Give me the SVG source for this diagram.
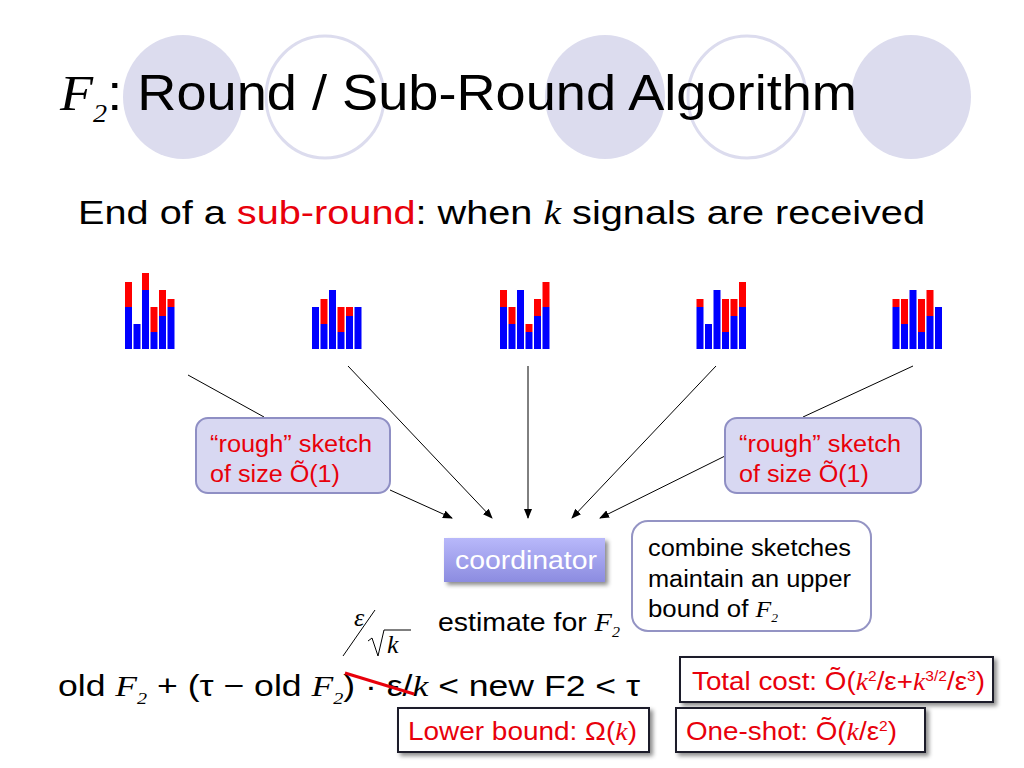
<svg xmlns="http://www.w3.org/2000/svg" width="1024" height="768" viewBox="0 0 1024 768">
<style>
text{font-family:"Liberation Sans",Arial,sans-serif;}
.m{font-family:"Liberation Serif","Times New Roman",serif;font-style:italic;}
.b{fill:#0000ff}.r{fill:#ff0000}
.ln{stroke:#000;stroke-width:1;fill:none}
.red{fill:#e8000b}
</style>
<defs>
<marker id="ah" markerWidth="10" markerHeight="8" refX="9" refY="4" orient="auto" markerUnits="userSpaceOnUse"><path d="M0,0 L10,4 L0,8 Z" fill="#000"/></marker>
<linearGradient id="cg" x1="0" y1="0" x2="0" y2="1"><stop offset="0" stop-color="#b8b8fa"/><stop offset="1" stop-color="#8c8ce0"/></linearGradient>
<filter id="sh" x="-10%" y="-10%" width="130%" height="140%"><feDropShadow dx="3" dy="3" stdDeviation="2" flood-color="#000" flood-opacity="0.45"/></filter>
</defs>
<rect width="1024" height="768" fill="#fff"/>
<g id="deco">
<ellipse cx="183" cy="97" rx="60" ry="62" fill="#dcdcee"/>
<ellipse cx="325" cy="97" rx="59" ry="61" fill="none" stroke="#dcdcee" stroke-width="3"/>
<ellipse cx="605" cy="97" rx="60" ry="62" fill="#dcdcee"/>
<ellipse cx="747" cy="97" rx="59" ry="61" fill="none" stroke="#dcdcee" stroke-width="3"/>
<ellipse cx="911" cy="97" rx="60" ry="62" fill="#dcdcee"/>
</g>
<g id="title">
<text x="60" y="110" font-size="50" textLength="797" lengthAdjust="spacingAndGlyphs"><tspan class="m">F</tspan><tspan font-size="26" class="m" font-style="normal" dy="12">2</tspan><tspan dy="-12">: Round / Sub-Round Algorithm</tspan></text>
<text x="78" y="224" font-size="34" textLength="847" lengthAdjust="spacingAndGlyphs">End of a <tspan class="red">sub-round</tspan>: when <tspan class="m">k</tspan> signals are received</text>
</g>
<g id="sites">
<g id="s1">
<rect class="b" x="125" y="307" width="7" height="42"/><rect class="r" x="125" y="282" width="7" height="25"/>
<rect class="b" x="133.5" y="324" width="7" height="25"/>
<rect class="b" x="142" y="290" width="7" height="59"/><rect class="r" x="142" y="273" width="7" height="17"/>
<rect class="b" x="150.5" y="332" width="7" height="17"/><rect class="r" x="150.5" y="307" width="7" height="25"/>
<rect class="b" x="159" y="316" width="7" height="33"/><rect class="r" x="159" y="290" width="7" height="26"/>
<rect class="b" x="167.5" y="307" width="7" height="42"/><rect class="r" x="167.5" y="299" width="7" height="8"/>
</g>
<g id="s2">
<rect class="b" x="312" y="307" width="7" height="42"/>
<rect class="b" x="320.5" y="324" width="7" height="25"/><rect class="r" x="320.5" y="299" width="7" height="25"/>
<rect class="b" x="329" y="290" width="7" height="59"/>
<rect class="b" x="337.5" y="332" width="7" height="17"/><rect class="r" x="337.5" y="307" width="7" height="25"/>
<rect class="b" x="346" y="316" width="7" height="33"/><rect class="r" x="346" y="307" width="7" height="9"/>
<rect class="b" x="354.5" y="307" width="7" height="42"/>
</g>
<g id="s3">
<rect class="b" x="500" y="307" width="7" height="42"/><rect class="r" x="500" y="290" width="7" height="17"/>
<rect class="b" x="508.5" y="324" width="7" height="25"/><rect class="r" x="508.5" y="307" width="7" height="17"/>
<rect class="b" x="517" y="290" width="7" height="59"/>
<rect class="b" x="525.5" y="332" width="7" height="17"/><rect class="r" x="525.5" y="324" width="7" height="8"/>
<rect class="b" x="534" y="316" width="7" height="33"/><rect class="r" x="534" y="299" width="7" height="17"/>
<rect class="b" x="542.5" y="307" width="7" height="42"/><rect class="r" x="542.5" y="282" width="7" height="25"/>
</g>
<g id="s4">
<rect class="b" x="696.5" y="307" width="7" height="42"/><rect class="r" x="696.5" y="299" width="7" height="8"/>
<rect class="b" x="705" y="324" width="7" height="25"/>
<rect class="b" x="713.5" y="290" width="7" height="59"/>
<rect class="b" x="722" y="332" width="7" height="17"/><rect class="r" x="722" y="299" width="7" height="33"/>
<rect class="b" x="730.5" y="316" width="7" height="33"/><rect class="r" x="730.5" y="299" width="7" height="17"/>
<rect class="b" x="739" y="307" width="7" height="42"/><rect class="r" x="739" y="282" width="7" height="25"/>
</g>
<g id="s5">
<rect class="b" x="892.5" y="307" width="7" height="42"/><rect class="r" x="892.5" y="299" width="7" height="8"/>
<rect class="b" x="901" y="324" width="7" height="25"/><rect class="r" x="901" y="299" width="7" height="25"/>
<rect class="b" x="909.5" y="290" width="7" height="59"/>
<rect class="b" x="918" y="332" width="7" height="17"/><rect class="r" x="918" y="299" width="7" height="33"/>
<rect class="b" x="926.5" y="316" width="7" height="33"/><rect class="r" x="926.5" y="290" width="7" height="26"/>
<rect class="b" x="935" y="307" width="7" height="42"/>
</g>
</g>
<g id="connectors">
<line class="ln" x1="188" y1="375" x2="264" y2="417"/>
<line class="ln" x1="390" y1="490" x2="452" y2="518" marker-end="url(#ah)"/>
<line class="ln" x1="348" y1="366" x2="492" y2="518" marker-end="url(#ah)"/>
<line class="ln" x1="528" y1="366" x2="528" y2="518" marker-end="url(#ah)"/>
<line class="ln" x1="716" y1="366" x2="572" y2="518" marker-end="url(#ah)"/>
<line class="ln" x1="913" y1="366" x2="803" y2="417"/>
<line class="ln" x1="725" y1="456" x2="600" y2="518" marker-end="url(#ah)"/>
</g>
<g id="rough1">
<rect x="196" y="418" width="194" height="75" rx="12" fill="#d8d8f2" stroke="#8f8fc4" stroke-width="2"/>
<text x="210" y="452" font-size="23" class="red" textLength="162" lengthAdjust="spacingAndGlyphs">“rough” sketch</text>
<text x="210" y="482" font-size="23" class="red" textLength="130" lengthAdjust="spacingAndGlyphs">of size Õ(1)</text>
</g>
<g id="rough2">
<rect x="725" y="418" width="196" height="75" rx="12" fill="#d8d8f2" stroke="#8f8fc4" stroke-width="2"/>
<text x="739" y="452" font-size="23" class="red" textLength="162" lengthAdjust="spacingAndGlyphs">“rough” sketch</text>
<text x="739" y="482" font-size="23" class="red" textLength="130" lengthAdjust="spacingAndGlyphs">of size Õ(1)</text>
</g>
<g id="coordinator">
<rect x="444" y="538" width="161" height="44" fill="url(#cg)" filter="url(#sh)"/>
<text x="455" y="569" font-size="25" fill="#fff" textLength="142" lengthAdjust="spacingAndGlyphs">coordinator</text>
</g>
<g id="combine">
<rect x="632" y="521" width="239" height="110" rx="16" fill="#fff" stroke="#9494c4" stroke-width="2"/>
<text x="648" y="556" font-size="23" textLength="203" lengthAdjust="spacingAndGlyphs">combine sketches</text>
<text x="648" y="587" font-size="23" textLength="203" lengthAdjust="spacingAndGlyphs">maintain an upper</text>
<text x="648" y="617" font-size="23" textLength="130" lengthAdjust="spacingAndGlyphs">bound of <tspan class="m">F</tspan><tspan class="m" font-style="normal" font-size="12" dy="5">2</tspan></text>
</g>
<g id="estimate">
<text x="354" y="626" font-size="26" class="m">ε</text>
<line class="ln" x1="343" y1="656" x2="375" y2="610"/>
<path class="ln" d="M368,641 L372,638 L378,656 L384,630 L411,630"/>
<text x="387" y="653" font-size="26" class="m">k</text>
<text x="438" y="631" font-size="25" textLength="182" lengthAdjust="spacingAndGlyphs">estimate for <tspan class="m">F</tspan><tspan class="m" font-style="normal" font-size="14" dy="6">2</tspan></text>
</g>
<g id="formula">
<text x="58" y="696" font-size="30" textLength="582" lengthAdjust="spacingAndGlyphs">old <tspan class="m">F</tspan><tspan class="m" font-style="normal" font-size="17" dy="8">2</tspan><tspan dy="-8"> + (τ − old </tspan><tspan class="m">F</tspan><tspan class="m" font-style="normal" font-size="17" dy="8">2</tspan><tspan dy="-8">) · ε/</tspan><tspan class="m">k</tspan><tspan> &lt;  new F2  &lt;  τ</tspan></text>
<line x1="345" y1="673" x2="414" y2="694" stroke="#e8000b" stroke-width="3"/>
</g>
<g id="total">
<rect x="680" y="657" width="313" height="45" fill="#fff" stroke="#1a1a2a" stroke-width="2" filter="url(#sh)"/>
<text x="692" y="690" font-size="25" class="red" textLength="293" lengthAdjust="spacingAndGlyphs">Total cost: Õ(<tspan class="m">k</tspan><tspan font-size="14" dy="-9">2</tspan><tspan dy="9">/ε+</tspan><tspan class="m">k</tspan><tspan font-size="14" dy="-9">3/2</tspan><tspan dy="9">/ε</tspan><tspan font-size="14" dy="-9">3</tspan><tspan dy="9">)</tspan></text>
</g>
<g id="lower">
<rect x="398" y="708" width="251" height="44" fill="#fff" stroke="#1a1a2a" stroke-width="2" filter="url(#sh)"/>
<text x="408" y="740" font-size="25" class="red" textLength="229" lengthAdjust="spacingAndGlyphs">Lower bound: Ω(<tspan class="m">k</tspan>)</text>
</g>
<g id="oneshot">
<rect x="676" y="708" width="249" height="44" fill="#fff" stroke="#1a1a2a" stroke-width="2" filter="url(#sh)"/>
<text x="686" y="740" font-size="25" class="red" textLength="211" lengthAdjust="spacingAndGlyphs">One-shot: Õ(<tspan class="m">k</tspan>/ε<tspan font-size="14" dy="-9">2</tspan><tspan dy="9">)</tspan></text>
</g>
</svg>
